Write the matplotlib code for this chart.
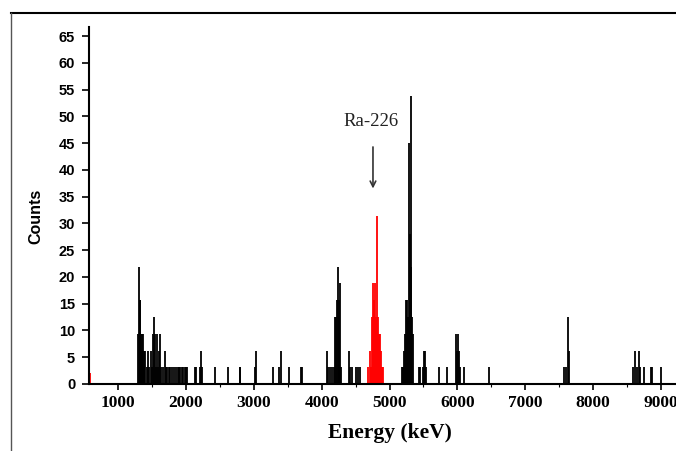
import matplotlib
matplotlib.use("Agg")
import matplotlib.pyplot as plt
from matplotlib.lines import Line2D
import numpy as np

# spectrum lines: energy (keV) and counts
energy_black = [1300, 1310, 1320, 1330, 1340, 1350, 1360, 1370, 1380, 1390,
                1400, 1420, 1440, 1460, 1480, 1500, 1510, 1525, 1540, 1555,
                1570, 1590, 1605, 1620, 1640, 1660, 1690, 1700, 1720, 1750,
                1770, 1800, 1830, 1850, 1880, 1900, 1915, 1940, 1960, 1980,
                2000, 2020, 2130, 2150, 2205, 2220, 2235, 2430, 2620, 2790,
                2800, 3020, 3035, 3280, 3370, 3395, 3520, 3690, 3710,
                4075, 4090, 4120, 4150, 4180, 4195, 4210, 4225, 4235, 4250,
                4260, 4275, 4290, 4405, 4420, 4440, 4510, 4530, 4570,
                5180, 5200, 5215, 5230, 5245, 5260, 5275, 5290, 5300, 5310,
                5320, 5335, 5350, 5430, 5450, 5490, 5505, 5525, 5540, 5735,
                5850, 5985, 5995, 6010, 6025, 6040, 6095, 6470,
                7575, 7600, 7630, 7645,
                8590, 8615, 8640, 8670, 8690, 8745, 8845, 8860, 9000]
counts_black = [9.4, 21.9, 15.6, 15.6, 9.4, 9.4, 6.2, 9.4, 6.2, 3.1,
                6.2, 3.1, 6.2, 3.1, 6.2, 3.1, 9.4, 12.5, 9.4, 3.1,
                9.4, 3.1, 6.2, 9.4, 3.1, 3.1, 6.2, 3.1, 3.1, 3.1,
                3.1, 3.1, 3.1, 3.1, 3.1, 3.1, 3.1, 3.1, 3.1, 3.1,
                3.1, 3.1, 3.1, 3.1, 3.1, 6.2, 3.1, 3.1, 3.1, 3.1,
                3.1, 3.1, 6.2, 3.1, 3.1, 6.2, 3.1, 3.1, 3.1,
                6.2, 3.1, 3.1, 3.1, 3.1, 12.5, 12.5, 15.6, 21.9, 12.5,
                15.6, 18.8, 3.1, 6.2, 3.1, 3.1, 3.1, 3.1, 3.1,
                3.1, 3.1, 6.2, 9.4, 15.6, 15.6, 12.5, 45.0, 28.1, 53.8,
                21.9, 12.5, 9.4, 3.1, 3.1, 3.1, 6.2, 6.2, 3.1, 3.1,
                3.1, 9.4, 6.2, 9.4, 6.2, 3.1, 3.1, 3.1,
                3.1, 3.1, 12.5, 6.2,
                3.1, 6.2, 3.1, 6.2, 3.1, 3.1, 3.1, 3.1, 3.1]

# Ra-226 region (red)
energy_red = [590, 4690, 4705, 4720, 4745, 4760, 4775, 4790, 4800, 4810,
              4825, 4840, 4860, 4875, 4890, 4905]
counts_red = [2.0, 3.1, 6.2, 3.1, 12.5, 18.8, 15.6, 18.8, 12.5, 31.3,
              12.5, 9.4, 9.4, 6.2, 3.1, 3.1]

yticks = list(range(0, 70, 5))
xticks = list(range(1000, 10000, 1000))

fig = plt.figure(figsize=(6.76, 4.51), dpi=100)
ax = fig.add_axes([0.1317, 0.1486, 0.8683, 0.7916])

ax.vlines(energy_black, 0, counts_black, color='black', lw=1.3)
ax.vlines(energy_red, 0, counts_red, color='#ff0000', lw=1.3)

ax.set_xlim(573, 9220)
ax.set_ylim(0, 66.7)

for s in ['top', 'right']:
    ax.spines[s].set_visible(False)
for s in ['left', 'bottom']:
    ax.spines[s].set_linewidth(1.5)
    ax.spines[s].set_zorder(5)

ax.set_yticks(yticks)
ax.set_yticklabels([str(v) for v in yticks], fontfamily='Liberation Sans',
                   fontweight='bold', fontsize=10.5)
ax.set_xticks(xticks)
ax.set_xticklabels([str(v) for v in xticks], fontfamily='Liberation Serif',
                   fontsize=12.5, fontweight='bold')
ax.set_xticks(np.arange(1500, 9500, 1000), minor=True)
ax.tick_params(axis='y', length=5, width=1.2, pad=5)
ax.tick_params(axis='x', which='major', length=4, width=1.2, pad=4)
ax.tick_params(axis='x', which='minor', length=2, width=0.8)

ax.set_xlabel('Energy (keV)', fontfamily='Liberation Serif', fontweight='bold',
              fontsize=15.5)
ax.xaxis.set_label_coords(0.513, -0.108)
ax.set_ylabel('Counts', fontfamily='Liberation Sans', fontweight='bold',
              fontsize=11.5)
ax.yaxis.set_label_coords(-0.078, 0.47)

ax.annotate('', xy=(4756, 36.0), xytext=(4756, 44.8),
            arrowprops=dict(arrowstyle='->', color='#333333', lw=1.2))
ax.text(4727, 49.0, 'Ra-226', fontfamily='Liberation Serif', fontsize=13.5,
        ha='center', va='center', color='#222222')

# outer frame
fig.add_artist(Line2D([11 / 676, 1.0], [1 - 13 / 451, 1 - 13 / 451],
                      transform=fig.transFigure, color='black', lw=1.5))
fig.add_artist(Line2D([11 / 676, 11 / 676], [0.0, 1 - 13 / 451],
                      transform=fig.transFigure, color='#555555', lw=1.0))

fig.savefig('out.png', dpi=100)
